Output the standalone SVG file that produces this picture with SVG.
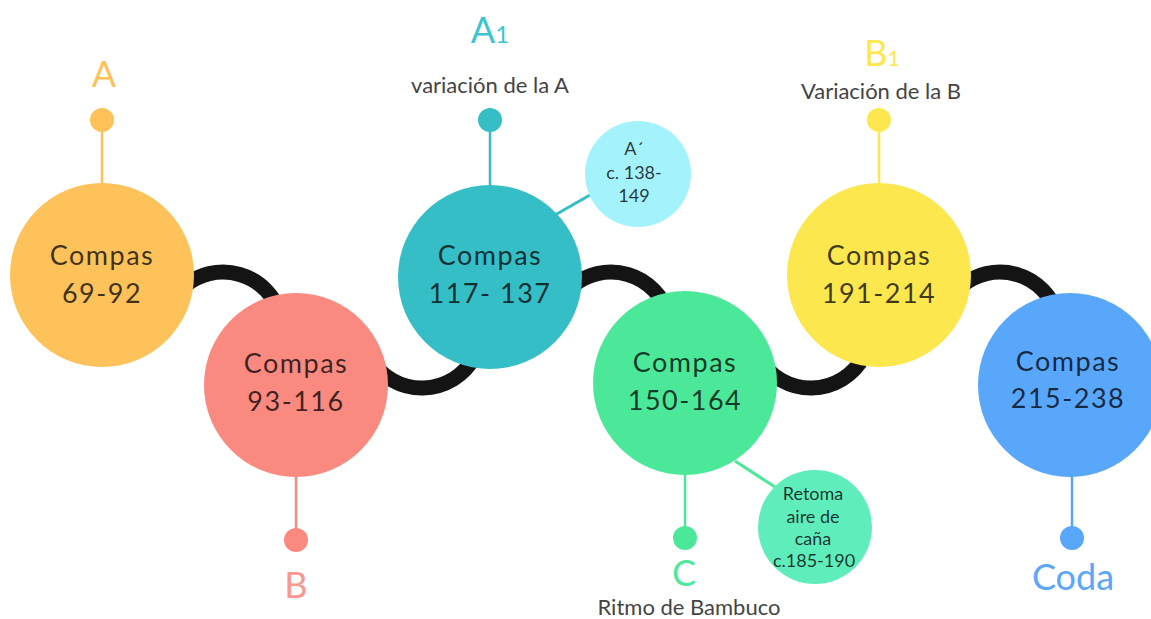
<svg xmlns="http://www.w3.org/2000/svg" width="1151" height="619" viewBox="0 0 1151 619">
<style>
.ct{font-family:Lato,"Open Sans","Liberation Sans",sans-serif;font-size:27px;text-anchor:middle;fill:#000;fill-opacity:0.75;letter-spacing:1.5px}
.st{font-family:Lato,"Open Sans","Liberation Sans",sans-serif;font-size:18px;text-anchor:middle;fill:#000;fill-opacity:0.78}
.lb{font-family:Lato,"Open Sans","Liberation Sans",sans-serif;font-size:36px;text-anchor:middle}
.sub{font-family:Lato,"Open Sans","Liberation Sans",sans-serif;font-size:22px;text-anchor:middle;fill:#444}
.arc{fill:none;stroke:#141414;stroke-width:15}
.stem{stroke-width:2.5}
.side{stroke-width:3}
</style>
<rect width="1151" height="619" fill="#fff"/>
<g id="connectors">
<path class="arc" d="M185,285.6 A60,60 0 0 1 280,313.3"/>
<path class="arc" d="M370,357.9 A60,60 0 0 0 475,356.1"/>
<path class="arc" d="M573,285.6 A60,60 0 0 1 668,313.3"/>
<path class="arc" d="M759,357.9 A60,60 0 0 0 864,356.1"/>
<path class="arc" d="M962,285.6 A60,60 0 0 1 1057,313.3"/>
<line class="side" x1="555" y1="215" x2="590" y2="195" stroke="#36BEC7"/>
<line class="side" x1="735" y1="461" x2="775" y2="487" stroke="#4CE89A"/>
</g>
<g id="node-a">
<line class="stem" x1="102" y1="120" x2="102" y2="185" stroke="#FDC25A"/>
<circle cx="102" cy="120" r="12" fill="#FDC25A"/>
<text class="lb" x="104" y="87" fill="#FDC25A">A</text>
<circle cx="102" cy="275" r="92" fill="#FDC25A"/>
<text class="ct" x="102" y="265">Compas</text>
<text class="ct" x="102" y="303">69-92</text>
</g>
<g id="node-b">
<line class="stem" x1="296" y1="475" x2="296" y2="540" stroke="#FA8A80"/>
<circle cx="296" cy="540" r="12" fill="#FA8A80"/>
<text class="lb" x="296" y="598" fill="#FA9890">B</text>
<circle cx="296" cy="385" r="92" fill="#FA8A80"/>
<text class="ct" x="296" y="373">Compas</text>
<text class="ct" x="296" y="411">93-116</text>
</g>
<g id="node-a1">
<line class="stem" x1="490" y1="120" x2="490" y2="187" stroke="#36BEC7"/>
<circle cx="490" cy="120" r="12" fill="#36BEC7"/>
<text class="lb" x="490" y="43" fill="#3CC5CE">A<tspan font-size="24">1</tspan></text>
<text class="sub" x="490" y="93">variación de la A</text>
<circle cx="490" cy="277" r="92" fill="#36BEC7"/>
<text class="ct" x="490" y="265">Compas</text>
<text class="ct" x="490" y="303">117- 137</text>
</g>
<g id="node-a-prime">
<circle cx="638" cy="174" r="53" fill="#A4F3FC"/>
<text class="st" x="634" y="155">A´</text>
<text class="st" x="634" y="179">c. 138-</text>
<text class="st" x="634" y="202">149</text>
</g>
<g id="node-c">
<line class="stem" x1="685" y1="470" x2="685" y2="538" stroke="#4CE89A"/>
<circle cx="685" cy="538" r="12" fill="#4CE89A"/>
<text class="lb" x="684" y="586" fill="#4DE89B">C</text>
<text class="sub" x="689" y="615" font-size="24">Ritmo de Bambuco</text>
<circle cx="685" cy="383" r="92" fill="#4CE89A"/>
<text class="ct" x="685" y="372">Compas</text>
<text class="ct" x="685" y="410">150-164</text>
</g>
<g id="node-retoma">
<circle cx="815" cy="527" r="57" fill="#60EDBC"/>
<text class="st" x="813" y="500">Retoma</text>
<text class="st" x="813" y="523">aire de</text>
<text class="st" x="813" y="545">caña</text>
<text class="st" x="814" y="567">c.185-190</text>
</g>
<g id="node-b1">
<line class="stem" x1="879" y1="120" x2="879" y2="185" stroke="#FDE74E"/>
<circle cx="879" cy="120" r="12" fill="#FDE74E"/>
<text class="lb" x="882" y="66" fill="#FDE74E" font-size="30">B<tspan font-size="21">1</tspan></text>
<text class="sub" x="881" y="99">Variación de la B</text>
<circle cx="879" cy="275" r="92" fill="#FDE74E"/>
<text class="ct" x="879" y="265">Compas</text>
<text class="ct" x="879" y="303">191-214</text>
</g>
<g id="node-coda">
<line class="stem" x1="1072" y1="475" x2="1072" y2="538" stroke="#59A7FA"/>
<circle cx="1072" cy="538" r="12" fill="#59A7FA"/>
<text class="lb" x="1073" y="590" fill="#5EA6F9">Coda</text>
<circle cx="1070" cy="385" r="92" fill="#59A7FA"/>
<text class="ct" x="1068" y="371">Compas</text>
<text class="ct" x="1068" y="408">215-238</text>
</g>
</svg>
